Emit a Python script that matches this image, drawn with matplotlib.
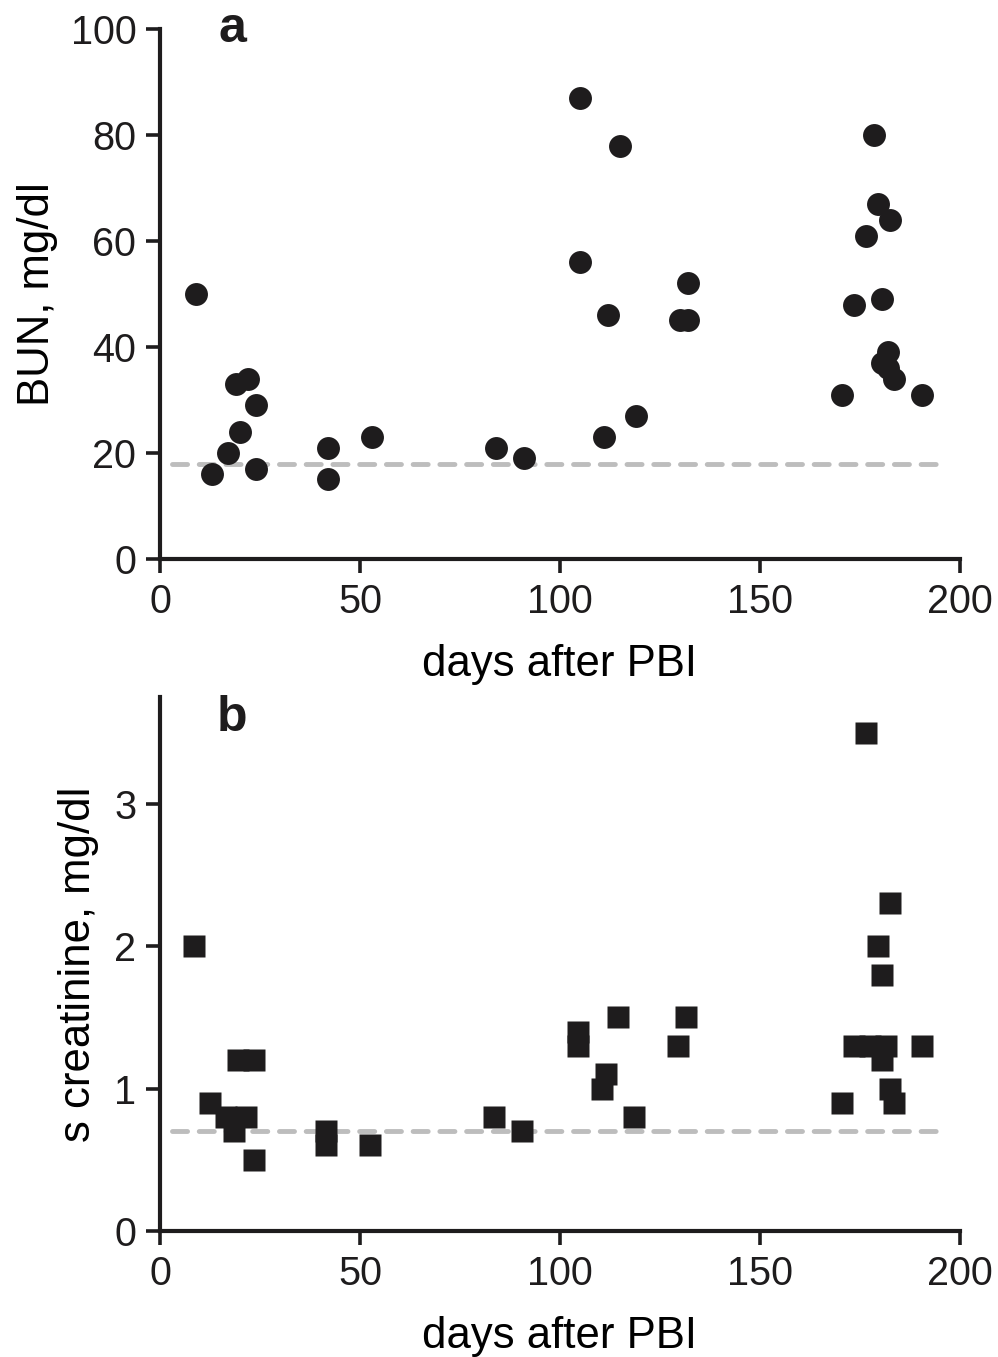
import matplotlib
matplotlib.use("Agg")
import matplotlib.pyplot as plt

plt.rcParams['font.family'] = ['Liberation Sans', 'DejaVu Sans']

# panel a: BUN (mg/dl) vs days after PBI
bun_days = [9, 13, 17, 19, 22, 20, 24, 24, 42, 42, 53, 84, 91,
            105, 105, 115, 112, 111, 119, 130, 132, 132,
            178.5, 179.5, 182.5, 176.5, 180.5, 173.5, 182, 180.5, 182, 183.5, 170.5, 190.5]
bun_vals = [50, 16, 20, 33, 34, 24, 29, 17, 21, 15, 23, 21, 19,
            87, 56, 78, 46, 23, 27, 45, 45, 52,
            80, 67, 64, 61, 49, 48, 39, 37, 36, 34, 31, 31]
bun_ref = 18

# panel b: serum creatinine (mg/dl) vs days after PBI
cr_days = [8.5, 19.5, 23.5, 12.5, 16.5, 21.5, 18.5, 23.5, 41.5, 41.5, 52.5, 83.5, 90.5,
           104.5, 104.5, 114.5, 111.5, 110.5, 118.5, 131.5, 129.5,
           176.5, 182.5, 179.5, 180.5, 173.5, 177.5, 181.5, 190.5, 180.5, 182.5, 183.5, 170.5]
cr_vals = [2.0, 1.2, 1.2, 0.9, 0.8, 0.8, 0.7, 0.5, 0.7, 0.6, 0.6, 0.8, 0.7,
           1.4, 1.3, 1.5, 1.1, 1.0, 0.8, 1.5, 1.3,
           3.5, 2.3, 2.0, 1.8, 1.3, 1.3, 1.3, 1.3, 1.2, 1.0, 0.9, 0.9]
cr_ref = 0.7

ref_span = [3, 195]

fig = plt.figure(figsize=(9.98, 13.57), dpi=100)
ax_a = fig.add_axes([0.1603, 0.5881, 0.8016, 0.3906])
ax_b = fig.add_axes([0.1603, 0.0929, 0.8016, 0.3935])

ink = '#1e1c1d'
grey = '#bdbdbd'


def style_axis(ax):
    for side in ['top', 'right']:
        ax.spines[side].set_visible(False)
    for side in ['left', 'bottom']:
        ax.spines[side].set_linewidth(3)
        ax.spines[side].set_color(ink)
    ax.tick_params(axis='both', direction='out', length=10, width=2.6,
                   colors=ink, labelsize=28.5, pad=7)
    ax.set_xlim(0, 200)
    ax.set_xticks([0, 50, 100, 150, 200])
    ax.set_xlabel('days after PBI', fontsize=31.5, labelpad=17)


# panel a
ax_a.plot(ref_span, [bun_ref, bun_ref], color=grey, lw=3.5,
          dashes=(3.1, 2.4), dash_capstyle='round', zorder=1)
ax_a.plot(bun_days, bun_vals, 'o', ms=16.5, color=ink, mec='none', zorder=2)
style_axis(ax_a)
ax_a.set_ylim(0, 100)
ax_a.set_yticks([0, 20, 40, 60, 80, 100])
ax_a.set_ylabel('BUN, mg/dl', fontsize=31.5, labelpad=9)
ax_a.text(0.09, 1.0, 'a', transform=ax_a.transAxes, fontsize=36,
          fontweight='bold', ha='center', va='center', color=ink)

# panel b
ax_b.plot(ref_span, [cr_ref, cr_ref], color=grey, lw=3.5,
          dashes=(3.1, 2.4), dash_capstyle='round', zorder=1)
ax_b.plot(cr_days, cr_vals, 's', ms=15.5, color=ink, mec='none', zorder=2)
style_axis(ax_b)
ax_b.set_ylim(0, 3.75)
ax_b.set_yticks([0, 1, 2, 3])
ax_b.set_ylabel('s creatinine, mg/dl', fontsize=31.5, labelpad=11)
ax_b.text(0.09, 0.96, 'b', transform=ax_b.transAxes, fontsize=36,
          fontweight='bold', ha='center', va='center', color=ink)

fig.savefig('out.png', dpi=100)
